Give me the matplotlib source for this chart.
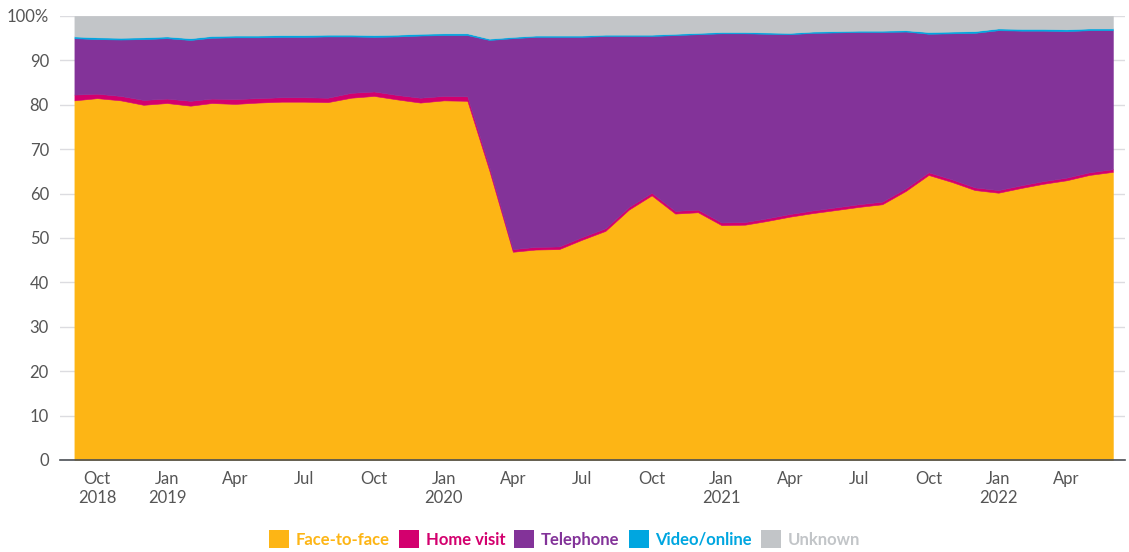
import matplotlib
matplotlib.use("Agg")
import matplotlib.pyplot as plt
from matplotlib.patches import Patch
import pandas as pd

plt.rcParams['font.family'] = ['Lato', 'DejaVu Sans']

# monthly share of GP appointments by mode, Sep 2018 - Jun 2022 (%)
months = pd.date_range("2018-09-01", periods=46, freq="MS")
face = [81.0, 81.5, 81.0, 80.0, 80.4, 79.8, 80.4, 80.2, 80.5, 80.7, 80.7, 80.6,
        81.6, 82.0, 81.2, 80.5, 81.0, 80.9, 65.2, 46.9, 47.4, 47.5, 49.6, 51.6,
        56.4, 59.6, 55.5, 55.8, 52.9, 53.0, 53.8, 54.8, 55.6, 56.3, 57.0, 57.6,
        60.6, 64.2, 62.6, 60.8, 60.2, 61.3, 62.2, 63.0, 64.2, 64.9]
home = [1.3, 1.0, 1.0, 1.1, 1.0, 1.1, 1.0, 1.1, 1.0, 1.0, 1.0, 1.0,
        1.1, 1.0, 1.0, 1.1, 1.0, 1.0, 0.8, 0.6, 0.6, 0.6, 0.6, 0.6,
        0.6, 0.6, 0.6, 0.6, 0.6, 0.6, 0.6, 0.6, 0.6, 0.6, 0.6, 0.6,
        0.6, 0.6, 0.6, 0.6, 0.6, 0.6, 0.6, 0.6, 0.6, 0.6]
phone = [12.7, 12.3, 12.7, 13.7, 13.6, 13.7, 13.7, 13.9, 13.7, 13.6, 13.6, 13.8,
         12.7, 12.3, 13.2, 14.0, 13.7, 13.8, 28.6, 47.5, 47.3, 47.2, 45.1, 43.3,
         38.5, 35.3, 39.6, 39.5, 42.6, 42.5, 41.6, 40.5, 40.0, 39.4, 38.8, 38.2,
         35.3, 31.2, 32.9, 34.8, 36.0, 34.8, 33.9, 33.0, 32.0, 31.3]
video = [0.4, 0.4, 0.4, 0.4, 0.4, 0.4, 0.4, 0.4, 0.4, 0.4, 0.4, 0.4,
         0.4, 0.4, 0.4, 0.4, 0.4, 0.4, 0.3, 0.3, 0.3, 0.3, 0.3, 0.3,
         0.3, 0.3, 0.3, 0.3, 0.3, 0.3, 0.3, 0.3, 0.3, 0.3, 0.3, 0.3,
         0.3, 0.4, 0.4, 0.4, 0.4, 0.4, 0.4, 0.4, 0.4, 0.4]
unknown = [4.6, 4.8, 4.9, 4.8, 4.6, 5.0, 4.5, 4.4, 4.4, 4.3, 4.3, 4.2,
           4.2, 4.3, 4.2, 4.0, 3.9, 3.9, 5.1, 4.7, 4.4, 4.4, 4.4, 4.2,
           4.2, 4.2, 4.0, 3.8, 3.6, 3.6, 3.7, 3.8, 3.5, 3.4, 3.3, 3.3,
           3.2, 3.6, 3.5, 3.4, 2.8, 2.9, 2.9, 3.0, 2.8, 2.8]
labels = ["Face-to-face", "Home visit", "Telephone", "Video/online", "Unknown"]
colors = ["#FDB515", "#D3006E", "#833399", "#00A6E0", "#C2C5C8"]

tick_dates = pd.date_range("2018-10-01", "2022-04-01", freq="3MS")
tick_text = []
for d in tick_dates:
    s = d.strftime("%b")
    if d == tick_dates[0] or d.month == 1:
        s += "\n" + str(d.year)
    tick_text.append(s)

TXT = "#555555"
fig = plt.figure(figsize=(11.29, 5.52), dpi=100)
ax = fig.add_axes([60/1129, (552-460)/552, (1125-60)/1129, 444/552])
ax.stackplot(months, face, home, phone, video, unknown, colors=colors,
             lw=0.4, edgecolor="face", zorder=2)

ax.set_ylim(0, 100)
x0 = months[0] - pd.Timedelta(days=19)
x1 = months[-1] + pd.Timedelta(days=16)
ax.set_xlim(x0, x1)
ax.set_yticks(range(0, 101, 10))
ax.set_yticklabels([str(v) for v in range(0, 100, 10)] + ["100%"])
ax.set_xticks(tick_dates)
ax.set_xticklabels(tick_text)
ax.tick_params(axis="y", length=0, pad=8, labelsize=12, labelcolor=TXT)
ax.tick_params(axis="x", length=0, pad=8, labelsize=12, labelcolor=TXT)
ax.grid(axis="y", color="#DCDCE0", lw=1, zorder=0)
ax.set_axisbelow(True)
for side in ["top", "right", "left"]:
    ax.spines[side].set_visible(False)
ax.spines["bottom"].set_color("#4A4F55")
ax.spines["bottom"].set_linewidth(1.2)
ax.spines["bottom"].set_zorder(5)

handles = [Patch(facecolor=c, edgecolor="none") for c in colors]
leg = fig.legend(handles, labels, loc="center", bbox_to_anchor=(0.5, 1 - 539/552),
                 ncol=5, frameon=False, handlelength=1.2, handleheight=1.2,
                 handletextpad=0.4, columnspacing=0.55,
                 prop={"weight": "bold", "size": 12})
for t, c in zip(leg.get_texts(), colors):
    t.set_color(c)

fig.savefig("out.png", dpi=100)
